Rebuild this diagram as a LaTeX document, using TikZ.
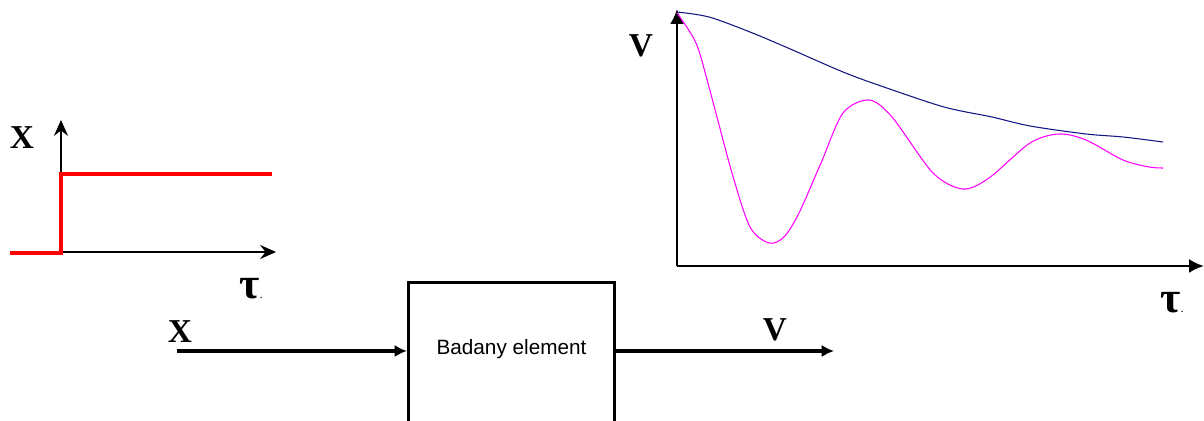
\documentclass[tikz,border=0pt]{standalone}
\usepackage{fontspec}
\newfontfamily\lblfont{Liberation Serif}
\newfontfamily\boxfont{Liberation Sans}
\usetikzlibrary{arrows, arrows.meta}
\definecolor{myred}{RGB}{255, 0, 0}
\definecolor{mynavy}{RGB}{20, 20, 130}
\definecolor{mymagenta}{RGB}{255, 0, 255}

\tikzset{
lbl/.style={font=\lblfont\bfseries\fontsize{19}{20}\selectfont, inner sep=0pt},
taulbl/.style={font=\lblfont\bfseries\fontsize{25}{26}\selectfont, inner sep=0pt},
thinaxis/.style={-{Stealth[length=9pt,width=8pt,inset=3pt]}, line width=0.9pt},
thickaxis/.style={-{Latex[length=8.5pt,width=8pt]}, line width=1.5pt},
signal/.style={-{Latex[length=7pt,width=7pt]}, line width=2.3pt},
}

\begin{document}
\begin{tikzpicture}[x=0.02cm,y=-0.02cm]
\useasboundingbox (0,0) rectangle (1204,421);

% step input
\coordinate (O1) at (61,252);
\coordinate (Y1) at (61,120);
\coordinate (X1) at (276,252);
\draw[thinaxis] (O1) -- (Y1);
\draw[thinaxis] (O1) -- (X1);
\draw[color=myred, line width=2] (10,253) -- (61,253) -- (61,174) -- (272,174);
\node[lbl] (xa) at (22,138) {X};
\node[taulbl] (ta) at (250,289) {τ\rlap{\tiny.}};

% response
\coordinate (O2) at (677,266);
\coordinate (Y2) at (677,9);
\coordinate (X2) at (1204,266);
\draw[thickaxis] (O2) -- (Y2);
\draw[thickaxis] (O2) -- (X2);
\node[lbl] (va) at (641,46) {V};
\node[taulbl] (tb) at (1171,303) {τ\rlap{\tiny.}};

\draw[color=mynavy, line width=0.6] plot [smooth] coordinates {(677,12) (709,17) (750,32) (788,48) (843,72) (881,86) (944,107) (992,117) (1030,126) (1086,134) (1123,137) (1163,142)};
\draw[color=mymagenta, line width=0.6] plot [smooth] coordinates {(677,13) (696,43) (709,87) (732,173) (750,227) (769,243) (784,237) (799,213) (821,163) (843,113) (869,100) (892,117) (933,173) (963,189) (989,178) (1030,143) (1059,134) (1086,140) (1123,160) (1149,167) (1163,168)};

% block
\node[draw, line width=1.9pt, minimum width=4.12cm, minimum height=3.0cm, inner sep=0pt,
  font=\boxfont\fontsize{11.8}{13}\selectfont] (elem) at (511.5,357.5) {\raisebox{12pt}{Badany element}};
\coordinate (in) at (177,351);
\coordinate (out) at (834,351);
\draw[signal] (in) -- (in -| elem.west);
\draw[signal] (out -| elem.east) -- (out);
\node[lbl] (xb) at (180,332) {X};
\node[lbl] (vb) at (775,330) {V};
\end{tikzpicture}
\end{document}
